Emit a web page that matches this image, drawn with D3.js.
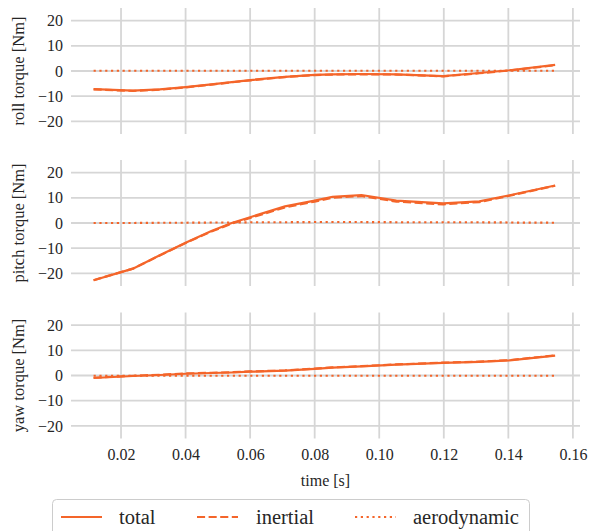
<!DOCTYPE html>
<html>
<head>
<meta charset="utf-8">
<script src="https://cdn.jsdelivr.net/npm/d3@7"></script>
<style>
  html,body{margin:0;padding:0;background:#fff;}
  svg text{font-family:'Liberation Serif','Times New Roman',Times,Tinos,'Nimbus Roman','Nimbus Roman No9 L','Noto Serif','DejaVu Serif',FreeSerif,serif !important;fill:#262626;}
</style>
</head>
<body>
<svg id="chart" width="589" height="531"></svg>
<script>
// values
const time = [0.0115, 0.0237, 0.032, 0.04, 0.048, 0.0543, 0.06, 0.0708, 0.08, 0.0855, 0.0945, 0.1053, 0.1198, 0.131, 0.1404, 0.1545];

const rollTotal    = [-7.2, -7.8, -7.3, -6.4, -5.3, -4.4, -3.6, -2.3, -1.5, -1.3, -1.2, -1.3, -2.0, -0.8, 0.3, 2.4];
const rollInertial = [-7.3, -7.9, -7.4, -6.5, -5.4, -4.5, -3.7, -2.4, -1.6, -1.4, -1.3, -1.4, -2.1, -0.9, 0.2, 2.3];
const rollAero     = [0.1, 0.1, 0.1, 0.1, 0.1, 0.1, 0.1, 0.1, 0.1, 0.1, 0.1, 0.1, 0.1, 0.1, 0.1, 0.1];

const pitchTotal    = [-22.7, -18.1, -12.8, -7.8, -3.2, 0.0, 2.3, 6.6, 8.9, 10.4, 11.1, 8.9, 7.8, 8.6, 11.0, 14.9];
const pitchInertial = [-22.7, -18.1, -12.9, -7.9, -3.4, -0.2, 2.0, 6.2, 8.5, 10.0, 10.7, 8.5, 7.4, 8.3, 10.8, 14.8];
const pitchAero     = [0.0, 0.0, 0.1, 0.1, 0.2, 0.2, 0.3, 0.3, 0.4, 0.4, 0.4, 0.3, 0.3, 0.3, 0.2, 0.1];

const yawTotal    = [-1.0, -0.2, 0.2, 0.7, 1.0, 1.2, 1.5, 1.9, 2.6, 3.1, 3.6, 4.3, 5.0, 5.4, 6.0, 7.9];
const yawInertial = [-0.9, -0.1, 0.3, 0.8, 1.1, 1.3, 1.6, 2.0, 2.7, 3.2, 3.7, 4.4, 5.1, 5.5, 6.1, 8.0];
const yawAero     = [-0.1, -0.1, -0.1, -0.1, -0.1, -0.1, -0.1, -0.1, -0.1, -0.1, -0.1, -0.1, -0.1, -0.1, -0.1, -0.1];

const panelLabels = ['roll torque [Nm]', 'pitch torque [Nm]', 'yaw torque [Nm]'];
const xTicks = [0.02, 0.04, 0.06, 0.08, 0.10, 0.12, 0.14, 0.16];
const yTicks = [-20, -10, 0, 10, 20];
const seriesNames = ['total', 'inertial', 'aerodynamic'];

const panels = [
  [rollTotal, rollInertial, rollAero],
  [pitchTotal, pitchInertial, pitchAero],
  [yawTotal, yawInertial, yawAero]
];

const ORANGE = '#f4652a', GRID = '#d6d6d6', LW = 2.2;
const DASH = [null, '8.1 3.5', '2.2 3.6'];

const svg = d3.select('#chart');
const L = 71, R = 580, PH = 126, tops = [8, 160, 312.5];
const x = d3.scaleLinear().domain([0.0045, 0.1622]).range([L, R]);

panels.forEach((series, pi) => {
  const top = tops[pi];
  const y = d3.scaleLinear().domain([-25, 25]).range([top + PH, top]);
  const g = svg.append('g');

  // grid
  g.append('g').selectAll('line').data(xTicks).join('line')
    .attr('x1', d => x(d)).attr('x2', d => x(d)).attr('y1', top).attr('y2', top + PH)
    .attr('stroke', GRID).attr('stroke-width', 1.8);
  g.append('g').selectAll('line').data(yTicks).join('line')
    .attr('x1', L).attr('x2', R).attr('y1', d => y(d)).attr('y2', d => y(d))
    .attr('stroke', GRID).attr('stroke-width', 1.8);

  // y axis labels
  const ya = g.append('g').attr('transform', `translate(${L},0)`)
    .call(d3.axisLeft(y).tickValues(yTicks).tickSize(0).tickPadding(8).tickFormat(d => d < 0 ? '\u2212' + Math.abs(d) : d));
  ya.select('.domain').remove();
  ya.attr('font-family', null).attr('font-size', 16);
  ya.selectAll('text').attr('fill', '#262626');

  g.append('text').attr('transform', `translate(24,${top + PH / 2}) rotate(-90)`)
    .attr('text-anchor', 'middle').attr('font-size', 16.5).text(panelLabels[pi]);

  const line = d3.line().x((d, i) => x(time[i])).y(d => y(d));
  // draw aero, inertial, then total on top
  [2, 1, 0].forEach(si => {
    g.append('path').datum(series[si]).attr('d', line)
      .attr('fill', 'none').attr('stroke', ORANGE).attr('stroke-width', LW)
      .attr('stroke-dasharray', DASH[si]).attr('stroke-linecap', 'butt');
  });

  if (pi === 2) {
    const xa = g.append('g').attr('transform', `translate(0,${top + PH})`)
      .call(d3.axisBottom(x).tickValues(xTicks).tickSize(0).tickPadding(10).tickFormat(d3.format('.2f')));
    xa.select('.domain').remove();
    xa.attr('font-family', null).attr('font-size', 16);
    xa.selectAll('text').attr('fill', '#262626');
    g.append('text').attr('x', (L + R) / 2).attr('y', 486).attr('text-anchor', 'middle')
      .attr('font-size', 16).text('time [s]');
  }
});

// legend
const lg = svg.append('g');
lg.append('rect').attr('x', 52.5).attr('y', 499.5).attr('width', 477).attr('height', 50).attr('rx', 4)
  .attr('fill', '#fff').attr('fill-opacity', 0.8).attr('stroke', '#cccccc').attr('stroke-width', 1);
const legX = [61, 197, 355], legTX = [119, 256, 413];
seriesNames.forEach((n, i) => {
  lg.append('line').attr('x1', legX[i]).attr('x2', legX[i] + 41).attr('y1', 517).attr('y2', 517)
    .attr('stroke', ORANGE).attr('stroke-width', LW).attr('stroke-dasharray', DASH[i]);
  lg.append('text').attr('x', legTX[i]).attr('y', 523.5).attr('font-size', 20.5).text(n);
});
</script>
</body>
</html>
